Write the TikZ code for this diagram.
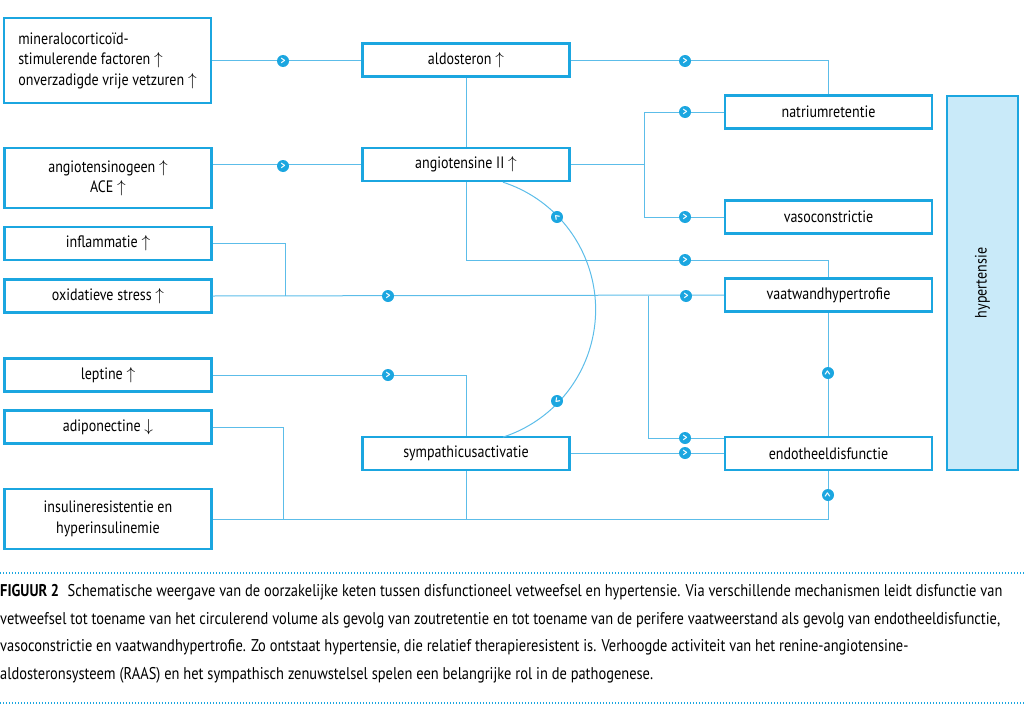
\documentclass[tikz,border=0pt]{standalone}
\usepackage{fontspec}
\usepackage{amsmath}
\setmainfont{PT Sans}[FakeStretch=0.85]
\usetikzlibrary{positioning}
\definecolor{kader}{HTML}{1BA6E0}
\definecolor{lijn}{HTML}{5CBDE9}
\definecolor{vulling}{HTML}{C9EAF9}
\tikzset{
  blok/.style={draw=kader, line width=2.4pt, minimum width=207pt, minimum height=33pt,
    inner sep=0pt, align=center, font=\fontsize{16.5}{20.5}\selectfont},
  verb/.style={draw=lijn, line width=1pt},
  pijl/.style={circle, fill=kader, inner sep=0pt, minimum size=12pt, text=white,
    font=\bfseries\fontsize{11}{11}\selectfont},
}
\begin{document}
\begin{tikzpicture}[x=1pt,y=1pt]
\useasboundingbox (0,0) rectangle (1024,-709);

% linker kolom
\node[blok, minimum height=85pt] (mc) at (107.5,-60.5) {\begin{tabular}{@{}l@{}}mineralocorticoïd-\\stimulerende factoren $\uparrow$\\onverzadigde vrije vetzuren $\uparrow$\end{tabular}};
\node[blok, minimum height=60pt] (ag) at (108,-178) {angiotensinogeen $\uparrow$\\ACE $\uparrow$};
\node[blok] (infl) at (108,-243.5) {inflammatie $\uparrow$};
\node[blok] (ox) at (108,-296) {oxidatieve stress $\uparrow$};
\node[blok] (lep) at (108,-375) {leptine $\uparrow$};
\node[blok] (adi) at (108,-427) {adiponectine $\downarrow$};
\node[blok, minimum height=60pt] (ins) at (108,-519) {insulineresistentie en\\hyperinsulinemie};

% middelste kolom
\node[blok] (ald) at (466,-60) {aldosteron $\uparrow$};
\node[blok] (ang) at (466,-164.5) {angiotensine II $\uparrow$};
\node[blok] (sym) at (466,-453.5) {sympathicusactivatie};

% rechter kolom
\node[blok] (nat) at (828.5,-112) {natriumretentie};
\node[blok] (vaso) at (828.5,-217) {vasoconstrictie};
\node[blok] (vaat) at (828.5,-295) {vaatwandhypertrofie};
\node[blok] (endo) at (828.5,-453.5) {endotheeldisfunctie};
\node[blok, fill=vulling, minimum width=71pt, minimum height=374pt] (hyp) at (982.5,-283) {};
\node[rotate=90, font=\fontsize{16.5}{19}\selectfont] (hyptxt) at (hyp.center) {hypertensie};

% verbindingen
\draw[verb] (mc.east |- ald.west) -- (ald.west);
\draw[verb] (ag.east |- ang.west) -- (ang.west);
\draw[verb] (ald.south) -- (ang.north);
\draw[verb] (ald.east) -| (nat.north);
\draw[verb] (ang.east) -- ++(74,0) coordinate (split);
\draw[verb] (split) |- (nat.west);
\draw[verb] (split) |- (vaso.west);
\draw[verb] (ang.south) -- ++(0,-78) -| (vaat.north);
\coordinate (samen) at (285,-296);
\draw[verb] (infl.east) -| (samen);
\draw[verb] (ox.east) -- (vaat.west);
\coordinate (tak) at (648,-296);
\draw[verb] (tak) |- ([yshift=-2.5pt]endo.north west);
\draw[verb] (lep.east) -| (sym.north);
\draw[verb] (adi.east) -| (283,-519);
\draw[verb] (ins.east) -| (endo.south);
\draw[verb] (sym.south) -- (sym.south |- ins.east);
\draw[verb] (sym.east) -- (endo.west);
\draw[verb] (endo.north) -- (vaat.south);
\draw[verb] ([xshift=37pt]ang.south) arc[start angle=72, end angle=-72, radius=134pt];

% pijltjes
\node[pijl] at (283,-61) {>};
\node[pijl] at (283,-166) {>};
\node[pijl] at (685,-61) {>};
\node[pijl] at (685,-112) {>};
\node[pijl] at (685,-217) {>};
\node[pijl] at (685,-260) {>};
\node[pijl] at (388,-296) {>};
\node[pijl] at (686,-296) {>};
\node[pijl] at (388,-375) {>};
\node[pijl] at (685,-438) {>};
\node[pijl] at (685,-453) {>};
\node[pijl, rotate=90] at (828,-373) {>};
\node[pijl, rotate=90] at (828,-495) {>};
\node[pijl, rotate=134] at (557,-217) {>};
\node[pijl, rotate=-134] at (557,-401) {>};

% onderschrift
\draw[kader, line width=1.2pt, dash pattern=on 1.2pt off 1.8pt] (0,-573) -- (1024,-573);
\draw[kader, line width=1.2pt, dash pattern=on 1.2pt off 1.8pt] (0,-703) -- (1024,-703);
\node[anchor=north west, align=left, inner sep=0pt, font=\fontsize{17}{27.8}\selectfont] (bijschrift) at (0,-584)
{\textbf{FIGUUR 2}\enspace Schematische weergave van de oorzakelijke keten tussen disfunctioneel vetweefsel en hypertensie. Via verschillende mechanismen leidt disfunctie van\\
vetweefsel tot toename van het circulerend volume als gevolg van zoutretentie en tot toename van de perifere vaatweerstand als gevolg van endotheeldisfunctie,\\
vasoconstrictie en vaatwandhypertrofie. Zo ontstaat hypertensie, die relatief therapieresistent is. Verhoogde activiteit van het renine-angiotensine-\\
aldosteronsysteem (RAAS) en het sympathisch zenuwstelsel spelen een belangrijke rol in de pathogenese.};
\end{tikzpicture}
\end{document}
